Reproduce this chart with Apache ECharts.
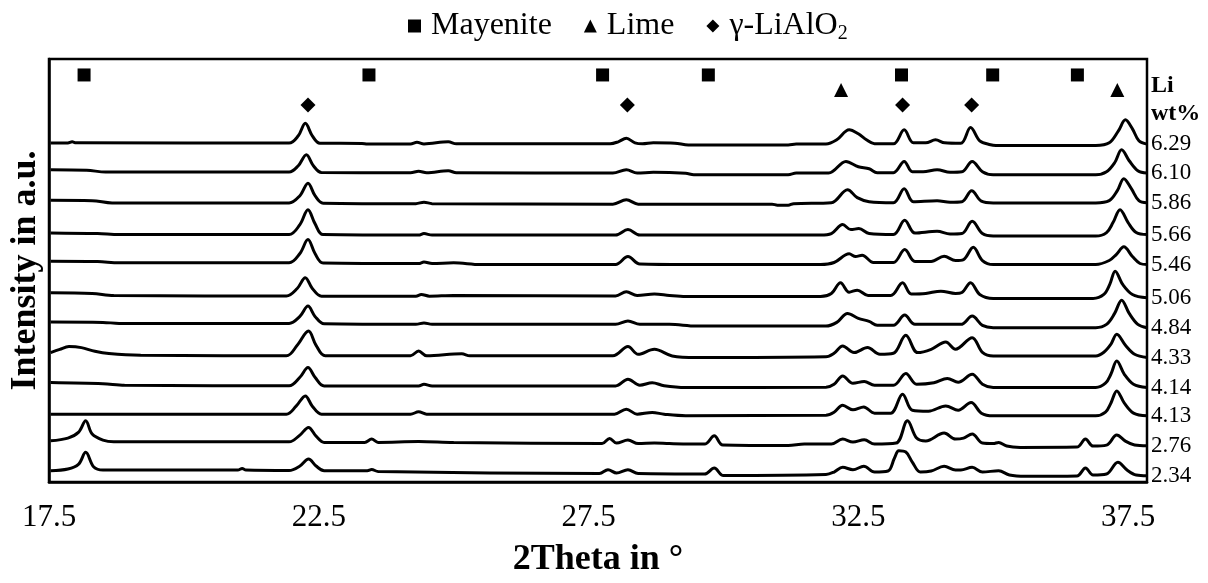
<!DOCTYPE html>
<html>
<head>
<meta charset="utf-8">
<script src="https://cdn.jsdelivr.net/npm/echarts@6/dist/echarts.min.js"></script>
<style>
  html, body { margin: 0; padding: 0; background: #fff; }
  #chart { width: 1208px; height: 583px; }
</style>
</head>
<body>
<div id="chart"></div>
<script>
// ---------------- DATA ----------------
// Sample labels (Li wt%), top trace first
const liLabels = ['6.29', '6.10', '5.86', '5.66', '5.46', '5.06', '4.84', '4.33', '4.14', '4.13', '2.76', '2.34'];

// X-axis tick labels (2Theta)
const xTicks = [17.5, 22.5, 27.5, 32.5, 37.5];

// Reflection marker positions (2Theta)
const mayenitePos = [18.15, 23.43, 27.76, 29.72, 33.30, 34.99, 36.56];
const limePos = [32.18, 37.30];
const liAlO2Pos = [22.30, 28.22, 33.32, 34.60];

// XRD patterns: [2Theta, intensity (a.u.)]
const trace_629 = [[17.53,9.7],[17.85,9.8],[17.93,11],[18.0,10],[21.95,9.7],[22.12,17],[22.25,29.5],[22.38,17],[22.52,9.6],[23.3,9.4],[23.4,8.7],[24.2,8.8],[24.32,10.5],[24.45,8.9],[24.9,11],[25.05,9],[27.9,9],[28.05,11],[28.2,14.5],[28.36,10],[28.5,9],[28.7,10],[29.1,9.6],[29.35,7.8],[31.2,7.8],[31.35,8.7],[31.9,8.7],[32.1,13],[32.33,23],[32.5,19],[32.65,13],[32.8,9],[33.15,9],[33.35,23],[33.52,10],[33.75,10],[33.93,13],[34.1,10],[34.4,9.5],[34.58,25.3],[34.75,12],[34.95,8],[35.05,7.3],[36.9,7.3],[37.15,10],[37.32,22],[37.45,33],[37.58,24],[37.7,12],[37.85,8.7]];
const trace_610 = [[17.53,13],[18.2,12.5],[18.55,10.7],[21.95,10.7],[22.12,17],[22.27,28],[22.4,17],[22.55,10.3],[24.2,10],[24.35,11.5],[24.5,10],[24.9,12],[25.05,10],[27.95,9.7],[28.2,13],[28.4,9.7],[28.7,10.5],[29.3,9.5],[29.45,8],[31.2,8],[31.35,9.7],[31.95,9.7],[32.27,21.3],[32.5,16],[32.7,14],[32.85,10],[33.15,10],[33.35,21.3],[33.5,11],[33.7,11],[33.96,13],[34.2,10.5],[34.42,11],[34.61,21.3],[34.8,11],[35.0,8],[36.9,8],[37.1,11],[37.25,20],[37.38,33],[37.52,22],[37.68,12],[37.85,9.7]];
const trace_586 = [[17.53,12.3],[18.3,12],[18.67,9.7],[21.95,9.7],[22.15,17],[22.3,29.5],[22.43,17],[22.58,9.5],[24.3,9],[24.45,10.5],[24.6,9],[27.95,8.5],[28.2,13],[28.42,8.5],[29.5,8.5],[30.9,8.5],[31.0,7.5],[31.2,7.5],[31.3,9],[32.0,10],[32.3,23],[32.48,15],[32.7,11],[33.15,10],[33.35,24],[33.52,11],[33.96,12],[34.2,10.5],[34.42,11],[34.6,22],[34.78,11.5],[35.0,9.7],[36.9,9.7],[37.15,12],[37.3,22],[37.42,34],[37.56,24],[37.7,12],[37.85,10]];
const trace_566 = [[17.53,9.7],[18.4,9],[18.8,8],[21.95,8],[22.15,18],[22.3,33],[22.43,19],[22.58,8],[24.35,7.5],[24.45,9],[24.6,7.5],[28.0,7.5],[28.23,13],[28.45,7.5],[31.8,7.5],[32.0,9],[32.21,18],[32.36,13],[32.51,14],[32.7,9],[33.15,8],[33.36,22.3],[33.55,9.5],[33.96,11.3],[34.2,8.5],[34.42,9],[34.61,21.3],[34.8,9],[35.0,6.5],[36.9,6.5],[37.1,10],[37.22,20],[37.35,33],[37.5,20],[37.65,10],[37.85,8]];
const trace_546 = [[17.53,11.3],[18.4,11],[18.8,9.7],[21.95,9.7],[22.15,19],[22.3,33],[22.43,19],[22.58,9.5],[24.35,9],[24.45,10.5],[24.6,9],[25.0,9.7],[25.5,8],[28.0,8],[28.23,16],[28.45,8.5],[29.3,8],[31.8,8],[32.05,10],[32.33,18.7],[32.45,16],[32.57,17.3],[32.78,10],[33.15,10],[33.36,23],[33.55,11],[33.85,11],[34.09,16.3],[34.3,12],[34.45,13],[34.63,25.3],[34.8,12],[35.0,8],[36.9,8],[37.15,12],[37.28,18],[37.42,25.7],[37.58,16],[37.72,9],[37.85,8]];
const trace_506 = [[17.53,9.7],[18.3,9],[18.7,7],[21.9,6.5],[22.1,14],[22.25,24.7],[22.38,14],[22.55,6.3],[24.3,6.3],[24.4,8],[24.55,6.3],[25.0,7],[28.0,6.5],[28.2,10.7],[28.4,7],[28.72,8.5],[29.0,7],[29.3,6],[31.8,6],[32.0,9],[32.17,19.7],[32.33,10.3],[32.48,12.3],[32.68,7],[33.1,7],[33.32,19.7],[33.48,8.5],[33.75,9],[34.03,11.3],[34.3,9],[34.42,10],[34.58,19.7],[34.75,8],[35.0,4],[36.85,4],[37.05,8],[37.16,18],[37.26,31.3],[37.4,18],[37.58,8],[37.85,4.7]];
const trace_484 = [[17.53,10.3],[18.5,10],[18.8,9],[21.95,9],[22.15,16],[22.3,26.3],[22.43,16],[22.6,8.5],[24.3,8],[24.45,9.5],[24.6,8],[28.0,8],[28.23,11.3],[28.45,8],[29.0,8],[29.5,6.3],[31.9,6.3],[32.1,10],[32.3,19],[32.5,14],[32.7,11],[32.85,7],[33.15,7],[33.36,17.3],[33.55,8],[34.4,8],[34.61,16.3],[34.8,7],[35.0,4.7],[36.9,4.7],[37.1,8],[37.25,19],[37.38,32.3],[37.52,19],[37.68,8],[37.85,4.7]];
const trace_433 = [[17.53,9.7],[17.7,13],[17.87,15.7],[18.1,14.7],[18.35,11],[18.61,8.7],[19.2,7],[21.9,6.5],[22.1,17],[22.31,31.3],[22.45,17],[22.62,6.5],[24.2,6.5],[24.35,11.3],[24.5,6.5],[25.15,8.5],[25.3,6.5],[27.95,6.5],[28.23,15.7],[28.42,8],[28.72,13],[29.05,6.3],[29.5,4.7],[31.9,5.5],[32.05,9],[32.21,16.3],[32.42,9.7],[32.67,14.7],[32.9,8],[33.15,9],[33.38,27],[33.6,9.7],[33.85,13],[34.12,20.3],[34.3,13],[34.61,24.7],[34.8,10],[35.0,6.3],[36.9,6.3],[37.05,10],[37.18,18],[37.29,28],[37.45,17],[37.62,8],[37.85,4.7]];
const trace_414 = [[17.53,9.7],[18.5,8.5],[18.9,7],[21.95,6.5],[22.15,15],[22.3,24.7],[22.43,15],[22.6,6.3],[24.35,6.3],[24.45,8],[24.6,6.3],[28.0,6.3],[28.23,13],[28.45,7],[28.68,9.5],[28.9,6.5],[29.3,4.7],[31.9,5],[32.05,8],[32.21,16.3],[32.4,9],[32.61,10.7],[32.8,7],[33.15,7],[33.38,18.7],[33.58,8],[33.9,9.5],[34.15,13.7],[34.35,10],[34.61,18],[34.8,8],[35.0,4.7],[36.9,4.7],[37.08,9],[37.18,18],[37.29,31.3],[37.43,18],[37.6,8],[37.85,4.7]];
const trace_413 = [[17.53,8],[21.9,8],[22.08,16],[22.25,26.3],[22.38,16],[22.55,8],[24.2,8],[24.35,10.3],[24.5,8],[27.98,8],[28.2,13],[28.4,8],[28.68,9.7],[28.9,8],[29.3,6.5],[31.9,7],[32.05,10],[32.21,17],[32.4,12.3],[32.6,15.3],[32.8,9],[33.1,9],[33.32,28],[33.5,12],[33.8,11],[34.12,16.3],[34.35,12],[34.59,19.7],[34.78,9],[35.0,6.3],[36.9,6.3],[37.08,10],[37.18,19],[37.29,31.3],[37.43,19],[37.6,9],[37.85,6.3]];
const trace_276 = [[17.53,11.3],[17.85,14],[18.05,20],[18.18,31.3],[18.3,18],[18.5,12],[18.7,10.3],[21.95,10.3],[22.15,17],[22.31,24.7],[22.45,16],[22.6,9.7],[23.35,9.7],[23.48,13],[23.6,9.7],[24.35,10.5],[25.0,9.5],[27.75,8.5],[27.89,13.7],[28.02,9],[28.23,12],[28.42,8.5],[28.72,9],[29.0,8.5],[29.65,8],[29.83,16.3],[29.99,7],[31.2,6.5],[31.5,8],[32.0,8],[32.21,13],[32.4,10],[32.61,12.3],[32.8,8],[33.2,9],[33.41,31.3],[33.58,14],[33.75,11],[34.09,19],[34.3,13],[34.45,14],[34.61,18],[34.8,9],[35.0,8.5],[35.1,9.7],[35.25,6],[35.5,4.7],[36.55,5],[36.71,13],[36.85,6],[37.1,7],[37.29,17],[37.45,11],[37.62,7],[37.85,6.3]];
const trace_234 = [[17.53,11.3],[17.85,13],[18.05,18],[18.18,29.7],[18.33,15],[18.5,12],[21.0,12],[21.08,13.5],[21.15,12],[21.95,11.5],[22.15,16],[22.31,23],[22.45,16],[22.6,11.3],[23.4,11.3],[23.48,12.5],[23.6,10.5],[27.7,8.5],[27.86,12.3],[28.02,9],[28.23,12.3],[28.42,8.5],[29.65,8],[29.83,14],[30.0,6.5],[31.9,7.5],[32.05,10],[32.21,14.7],[32.4,12.3],[32.6,15.7],[32.8,10],[33.05,11],[33.17,24],[33.25,31.3],[33.38,30],[33.5,20],[33.65,10],[33.85,11],[34.09,15.7],[34.3,12],[34.4,12],[34.61,14.7],[34.8,10],[35.1,11.3],[35.3,7],[35.6,5.7],[36.55,6],[36.71,14],[36.85,7],[37.1,8],[37.31,19.7],[37.48,12],[37.65,7],[37.85,6.3]];

const traces = [trace_629, trace_610, trace_586, trace_566, trace_546, trace_506, trace_484, trace_433, trace_414, trace_413, trace_276, trace_234];

// ---------------- LAYOUT / STYLE ----------------
const STACK_STEP = 30;        // vertical offset between stacked patterns
const Y_MAX = 424;
const ROW_MAYENITE = 408, ROW_LIME = 393, ROW_LIALO2 = 378; // marker rows
const SERIF = 'Liberation Serif, Times New Roman, serif';
const N = traces.length;

const chart = echarts.init(document.getElementById('chart'), null, { renderer: 'canvas' });

const lineSeries = traces.map((t, i) => ({
  type: 'line',
  name: liLabels[i],
  data: t.map(p => [p[0], p[1] + (N - 1 - i) * STACK_STEP]),
  showSymbol: false,
  smooth: 0.35,
  silent: true,
  lineStyle: { color: '#000', width: 3 },
  itemStyle: { color: '#000' },
  endLabel: {
    show: true, formatter: '{a}', distance: 4,
    fontFamily: SERIF, fontSize: 23, color: '#000'
  },
  z: 3
}));

const markerSeries = [
  { name: 'Mayenite', symbol: 'rect', size: 13, pos: mayenitePos, row: ROW_MAYENITE },
  { name: 'Lime', symbol: 'triangle', size: 14, pos: limePos, row: ROW_LIME },
  { name: 'γ-LiAlO2', symbol: 'diamond', size: 15, pos: liAlO2Pos, row: ROW_LIALO2 }
].map(m => ({
  type: 'scatter',
  name: m.name,
  symbol: m.symbol,
  symbolSize: m.size,
  itemStyle: { color: '#000', opacity: 1 },
  data: m.pos.map(x => [x, m.row]),
  z: 4
}));

const option = {
  animation: false,
  backgroundColor: '#fff',
  grid: {
    left: 48, right: 61, top: 59, bottom: 100,
    show: true, borderColor: '#000', borderWidth: 2.5, backgroundColor: 'transparent'
  },
  legend: {
    left: 403, top: 5,
    itemGap: 32, itemWidth: 13, itemHeight: 13,
    itemStyle: { color: '#000', opacity: 1 },
    data: [
      { name: 'Mayenite', icon: 'rect' },
      { name: 'Lime', icon: 'triangle' },
      { name: 'γ-LiAlO2', icon: 'diamond' }
    ],
    formatter: function (name) {
      return name === 'γ-LiAlO2' ? '{a|γ-LiAlO}{s|2}' : '{a|' + name + '}';
    },
    textStyle: {
      color: '#000', fontFamily: SERIF, fontSize: 32, padding: [0, 0, 0, 5],
      rich: {
        a: { fontFamily: SERIF, fontSize: 32, color: '#000', lineHeight: 36 },
        s: { fontFamily: SERIF, fontSize: 20, color: '#000', lineHeight: 36, verticalAlign: 'bottom', padding: [12, 0, 0, 0] }
      }
    }
  },
  xAxis: {
    type: 'value', min: 17.5, max: 37.85,
    name: '2Theta in °', nameLocation: 'middle', nameGap: 60,
    nameTextStyle: { fontFamily: SERIF, fontSize: 36, fontWeight: 'bold', color: '#000' },
    axisLine: { show: true, lineStyle: { color: '#000', width: 2.5 } },
    axisTick: { show: false },
    splitLine: { show: false },
    axisLabel: {
      customValues: xTicks,
      formatter: v => v.toFixed(1),
      fontFamily: SERIF, fontSize: 31, color: '#000', margin: 20
    }
  },
  yAxis: {
    type: 'value', min: 0, max: Y_MAX,
    name: 'Intensity in a.u.', nameLocation: 'middle', nameRotate: 90, nameGap: 5,
    nameTextStyle: { fontFamily: SERIF, fontSize: 36, fontWeight: 'bold', color: '#000' },
    axisLine: { show: true, lineStyle: { color: '#000', width: 2.5 } },
    axisTick: { show: false },
    axisLabel: { show: false },
    splitLine: { show: false }
  },
  graphic: [
    { type: 'text', left: 1151, top: 74, style: { text: 'Li', fontFamily: SERIF, fontSize: 24, fontWeight: 'bold', fill: '#000' } },
    { type: 'text', left: 1151, top: 102, style: { text: 'wt%', fontFamily: SERIF, fontSize: 24, fontWeight: 'bold', fill: '#000' } }
  ],
  series: lineSeries.concat(markerSeries)
};

chart.setOption(option);
</script>
</body>
</html>
